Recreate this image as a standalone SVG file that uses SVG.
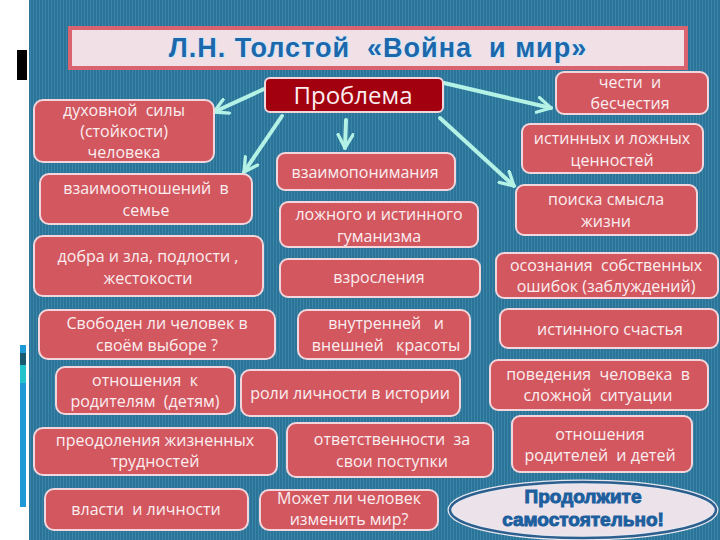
<svg xmlns="http://www.w3.org/2000/svg" width="720" height="540" viewBox="0 0 720 540" xml:space="preserve">
<defs>
<pattern id="stripes" width="3" height="10" patternUnits="userSpaceOnUse">
<rect width="3" height="10" fill="#2b7497"/>
<rect width="1" height="10" fill="#3a86aa"/>
</pattern>
<marker id="ah" viewBox="0 0 12 12" refX="10" refY="6" markerWidth="4.5" markerHeight="4.5" orient="auto" markerUnits="strokeWidth">
<path d="M1,1 L10,6 L1,11" fill="none" stroke="#b4f2e6" stroke-width="2.2" stroke-linecap="round" stroke-linejoin="round"/>
</marker>
</defs>
<style>
text{white-space:pre}
.box{fill:#d2575f;stroke:#f2d6dc;stroke-width:2}
.t{font-family:"Open Sans","Noto Sans",sans-serif;font-size:16px;fill:#fbeef0;text-anchor:middle}
.conn{stroke:#b4f2e6;stroke-width:4;fill:none;stroke-linecap:round}
.title{font-family:"Liberation Sans",Arial,sans-serif;font-weight:bold;font-size:27px;letter-spacing:1px;fill:#1b68ad;text-anchor:middle;stroke:#d8e6f4;stroke-width:2;paint-order:stroke}
.ell{font-family:"Liberation Sans",Arial,sans-serif;font-weight:900;font-size:19px;fill:#1d5f9e;text-anchor:middle;stroke:#1d5f9e;stroke-width:1}
</style>
<rect width="720" height="540" fill="#ffffff"/>
<rect x="29" y="0" width="691" height="540" fill="url(#stripes)"/>
<rect x="17" y="50" width="10" height="30" fill="#000000"/>
<rect x="20" y="345" width="6" height="162" fill="#1d9ad6"/>
<rect x="20" y="353" width="6" height="12" fill="#1a5a70"/>
<rect x="20" y="365" width="6" height="18" fill="#22c4cc"/>

<g id="title">
<rect x="70" y="28" width="616" height="40" fill="#f1e0e6" stroke="#d9636e" stroke-width="4"/>
<text x="378" y="57" class="title">Л.Н. Толстой  «Война  и мир»</text>
</g>

<g id="connectors">
<line class="conn" x1="264" y1="89" x2="214" y2="112" marker-end="url(#ah)"/>
<line class="conn" x1="282" y1="116" x2="244" y2="172" marker-end="url(#ah)"/>
<line class="conn" x1="346" y1="120" x2="345" y2="148" marker-end="url(#ah)"/>
<line class="conn" x1="444" y1="83" x2="551" y2="108" marker-end="url(#ah)"/>
<line class="conn" x1="440" y1="118" x2="514" y2="186" marker-end="url(#ah)"/>
</g>

<g id="problem">
<rect x="265" y="78" width="178" height="34" rx="5" fill="#a3000f" stroke="#f2d6dc" stroke-width="2"/>
<text x="353" y="104" font-family="'Open Sans','Noto Sans',sans-serif" font-size="24" fill="#fbeef0" text-anchor="middle">Проблема</text>
</g>

<g id="n1"><rect class="box" x="34" y="100" width="180" height="62" rx="9"/><text class="t" x="124" y="116">духовной  силы</text><text class="t" x="124" y="137">(стойкости)</text><text class="t" x="124" y="158">человека</text></g>
<g id="n2"><rect class="box" x="40" y="174" width="212" height="50" rx="9"/><text class="t" x="146" y="194">взаимоотношений  в</text><text class="t" x="146" y="216">семье</text></g>
<g id="n3"><rect class="box" x="34" y="236" width="229" height="60" rx="9"/><text class="t" x="148" y="262">добра и зла, подлости ,</text><text class="t" x="148" y="284">жестокости</text></g>
<g id="n4"><rect class="box" x="39" y="310" width="236" height="49" rx="9"/><text class="t" x="157" y="329">Свободен ли человек в</text><text class="t" x="157" y="351">своём выборе ?</text></g>
<g id="n5"><rect class="box" x="56" y="367" width="179" height="47" rx="9"/><text class="t" x="145" y="386">отношения  к</text><text class="t" x="145" y="407">родителям  (детям)</text></g>
<g id="n6"><rect class="box" x="34" y="428" width="243" height="47" rx="9"/><text class="t" x="155" y="446">преодоления жизненных</text><text class="t" x="155" y="467">трудностей</text></g>
<g id="n7"><rect class="box" x="45" y="489" width="203" height="41" rx="9"/><text class="t" x="146" y="515">власти  и личности</text></g>

<g id="m1"><rect class="box" x="277" y="153" width="178" height="37" rx="8"/><text class="t" x="365" y="178">взаимопонимания</text></g>
<g id="m2"><rect class="box" x="280" y="202" width="198" height="45" rx="8"/><text class="t" x="379" y="220">ложного и истинного</text><text class="t" x="379" y="242">гуманизма</text></g>
<g id="m3"><rect class="box" x="280" y="259" width="200" height="38" rx="8"/><text class="t" x="379" y="283">взросления</text></g>
<g id="m4"><rect class="box" x="298" y="310" width="172" height="49" rx="9"/><text class="t" x="386" y="329">внутренней   и</text><text class="t" x="386" y="351">внешней   красоты</text></g>
<g id="m5"><rect class="box" x="241" y="370" width="219" height="46" rx="9"/><text class="t" x="350" y="399">роли личности в истории</text></g>
<g id="m6"><rect class="box" x="287" y="423" width="206" height="54" rx="9"/><text class="t" x="392" y="445">ответственности  за</text><text class="t" x="392" y="467">свои поступки</text></g>
<g id="m7"><rect class="box" x="260" y="490" width="178" height="40" rx="9"/><text class="t" x="349" y="504">Может ли человек</text><text class="t" x="349" y="525">изменить мир?</text></g>

<g id="r1"><rect class="box" x="556" y="72" width="152" height="42" rx="8"/><text class="t" x="630" y="88">чести  и</text><text class="t" x="630" y="109">бесчестия</text></g>
<g id="r2"><rect class="box" x="522" y="124" width="181" height="49" rx="8"/><text class="t" x="612" y="144">истинных и ложных</text><text class="t" x="612" y="166">ценностей</text></g>
<g id="r3"><rect class="box" x="516" y="185" width="181" height="50" rx="8"/><text class="t" x="606" y="205">поиска смысла</text><text class="t" x="606" y="227">жизни</text></g>
<g id="r4"><rect class="box" x="496" y="253" width="222" height="45" rx="8"/><text class="t" x="606" y="271">осознания  собственных</text><text class="t" x="606" y="292">ошибок (заблуждений)</text></g>
<g id="r5"><rect class="box" x="500" y="309" width="218" height="39" rx="8"/><text class="t" x="610" y="335">истинного счастья</text></g>
<g id="r6"><rect class="box" x="490" y="360" width="218" height="50" rx="8"/><text class="t" x="598" y="380">поведения  человека  в</text><text class="t" x="598" y="401">сложной  ситуации</text></g>
<g id="r7"><rect class="box" x="512" y="416" width="180" height="56" rx="8"/><text class="t" x="600" y="440">отношения</text><text class="t" x="600" y="461">родителей  и детей</text></g>

<g id="continue">
<ellipse cx="583" cy="510" rx="133" ry="28" fill="#ece2ea" stroke="#e8e8f0" stroke-width="5"/>
<ellipse cx="583" cy="510" rx="133" ry="28" fill="none" stroke="#2c5f8e" stroke-width="2.5"/>
<text class="ell" x="583" y="503">Продолжите</text>
<text class="ell" x="583" y="526">самостоятельно!</text>
</g>
</svg>
